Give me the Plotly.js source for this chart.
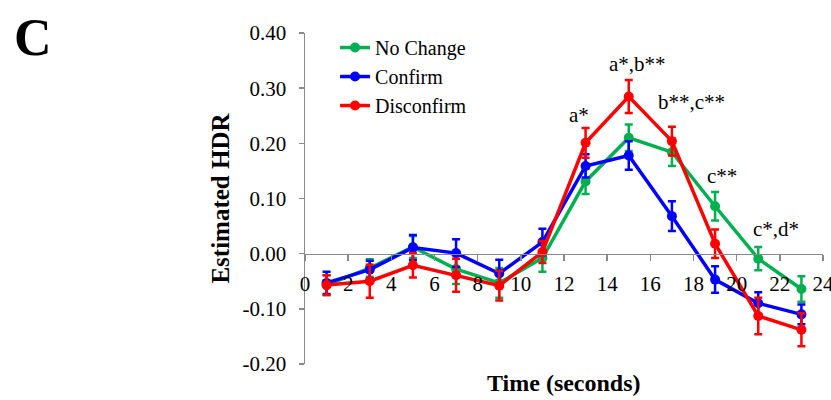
<!DOCTYPE html>
<html>
<head>
<meta charset="utf-8">
<script src="https://cdn.plot.ly/plotly-3.0.1.min.js"></script>
<style>html,body{margin:0;padding:0;background:#fff;}#chart{width:831px;height:400px;}</style>
</head>
<body>
<div id="chart"></div>
<script>
const timeSec = [1, 3, 5, 7, 9, 11, 13, 15, 17, 19, 21, 23];
const noChange = [-0.057, -0.026, 0.012, -0.028, -0.053, -0.008, 0.131, 0.210, 0.184, 0.086, -0.009, -0.064];
const noChangeErr = [0.018, 0.016, 0.020, 0.027, 0.027, 0.025, 0.023, 0.024, 0.025, 0.026, 0.021, 0.023];
const confirm = [-0.053, -0.029, 0.011, 0.001, -0.036, 0.021, 0.159, 0.178, 0.068, -0.047, -0.090, -0.110];
const confirmErr = [0.020, 0.016, 0.023, 0.025, 0.025, 0.024, 0.021, 0.026, 0.027, 0.024, 0.020, 0.018];
const disconfirm = [-0.057, -0.050, -0.021, -0.039, -0.058, 0.003, 0.201, 0.285, 0.204, 0.018, -0.113, -0.138];
const disconfirmErr = [0.018, 0.030, 0.022, 0.030, 0.027, 0.020, 0.027, 0.030, 0.026, 0.026, 0.033, 0.030];
const seriesNames = ["No Change", "Confirm", "Disconfirm"];
const xTicks = [0, 2, 4, 6, 8, 10, 12, 14, 16, 18, 20, 22, 24];
const yTicks = [-0.2, -0.1, 0, 0.1, 0.2, 0.3, 0.4];
const sigLabels = ["a*", "a*,b**", "b**,c**", "c**", "c*,d*"];
const sigX = [12.70, 15.41, 17.91, 19.30, 21.80];
const sigY = [0.252, 0.343, 0.275, 0.141, 0.045];

const colors = ["#00B050", "#0000FF", "#FF0000"];
const serif = "Liberation Serif";
function mk(name, y, err, color) {
  return {
    type: "scatter", mode: "lines+markers", name: name,
    x: timeSec, y: y,
    line: {color: color, width: 3.5},
    marker: {color: color, size: 10},
    error_y: {type: "data", array: err, visible: true, color: color, thickness: 2.5, width: 4}
  };
}
const data = [
  mk(seriesNames[0], noChange, noChangeErr, colors[0]),
  mk(seriesNames[1], confirm, confirmErr, colors[1]),
  mk(seriesNames[2], disconfirm, disconfirmErr, colors[2])
];
const annotations = sigLabels.map((t, i) => ({
  text: t, x: sigX[i], y: sigY[i], xref: "x", yref: "y", showarrow: false,
  font: {family: serif, size: 21, color: "#000"}
}));
annotations.push({text: "<b>C</b>", xref: "paper", yref: "paper", x: -0.525, y: 0.987,
  xanchor: "center", yanchor: "middle", showarrow: false, font: {family: serif, size: 52, color: "#000"}});
annotations.push({text: "<b>Time (seconds)</b>", xref: "paper", yref: "paper", x: 0.5, y: -0.058,
  xanchor: "center", yanchor: "middle", showarrow: false, font: {family: serif, size: 24, color: "#000"}});
const layout = {
  width: 831, height: 400,
  font: {family: serif, color: "#000"},
  margin: {l: 305, r: 8, t: 33, b: 36},
  paper_bgcolor: "#fff", plot_bgcolor: "#fff",
  showlegend: true,
  legend: {x: 0.058, y: 1.015, xanchor: "left", yanchor: "top", bgcolor: "rgba(0,0,0,0)",
    font: {family: serif, size: 20, color: "#000"}, tracegroupgap: 0, itemwidth: 30},
  xaxis: {
    range: [0, 24], tickvals: xTicks, ticktext: xTicks.map(String),
    anchor: "free", position: 1/3,
    showline: true, linecolor: "#898989", linewidth: 1.5,
    ticks: "outside", ticklen: 6, tickcolor: "#898989", tickwidth: 1.5,
    ticklabelstandoff: 5, ticklabeloverflow: "allow",
    showgrid: false, zeroline: false,
    tickfont: {family: serif, size: 21, color: "#000"},
    title: {text: ""}
  },
  yaxis: {
    range: [-0.2, 0.4], tickvals: yTicks, ticktext: yTicks.map(v => v.toFixed(2)),
    showline: true, linecolor: "#898989", linewidth: 1.5,
    ticks: "outside", ticklen: 5, tickcolor: "#898989", tickwidth: 1.5,
    ticklabelstandoff: 8,
    showgrid: false, zeroline: false,
    tickfont: {family: serif, size: 21, color: "#000"},
    title: {text: "<b>Estimated HDR</b>", font: {family: serif, size: 25, color: "#000"}, standoff: 6}
  },
  annotations: annotations
};
Plotly.newPlot("chart", data, layout, {displayModeBar: false, staticPlot: true});
</script>
</body>
</html>
